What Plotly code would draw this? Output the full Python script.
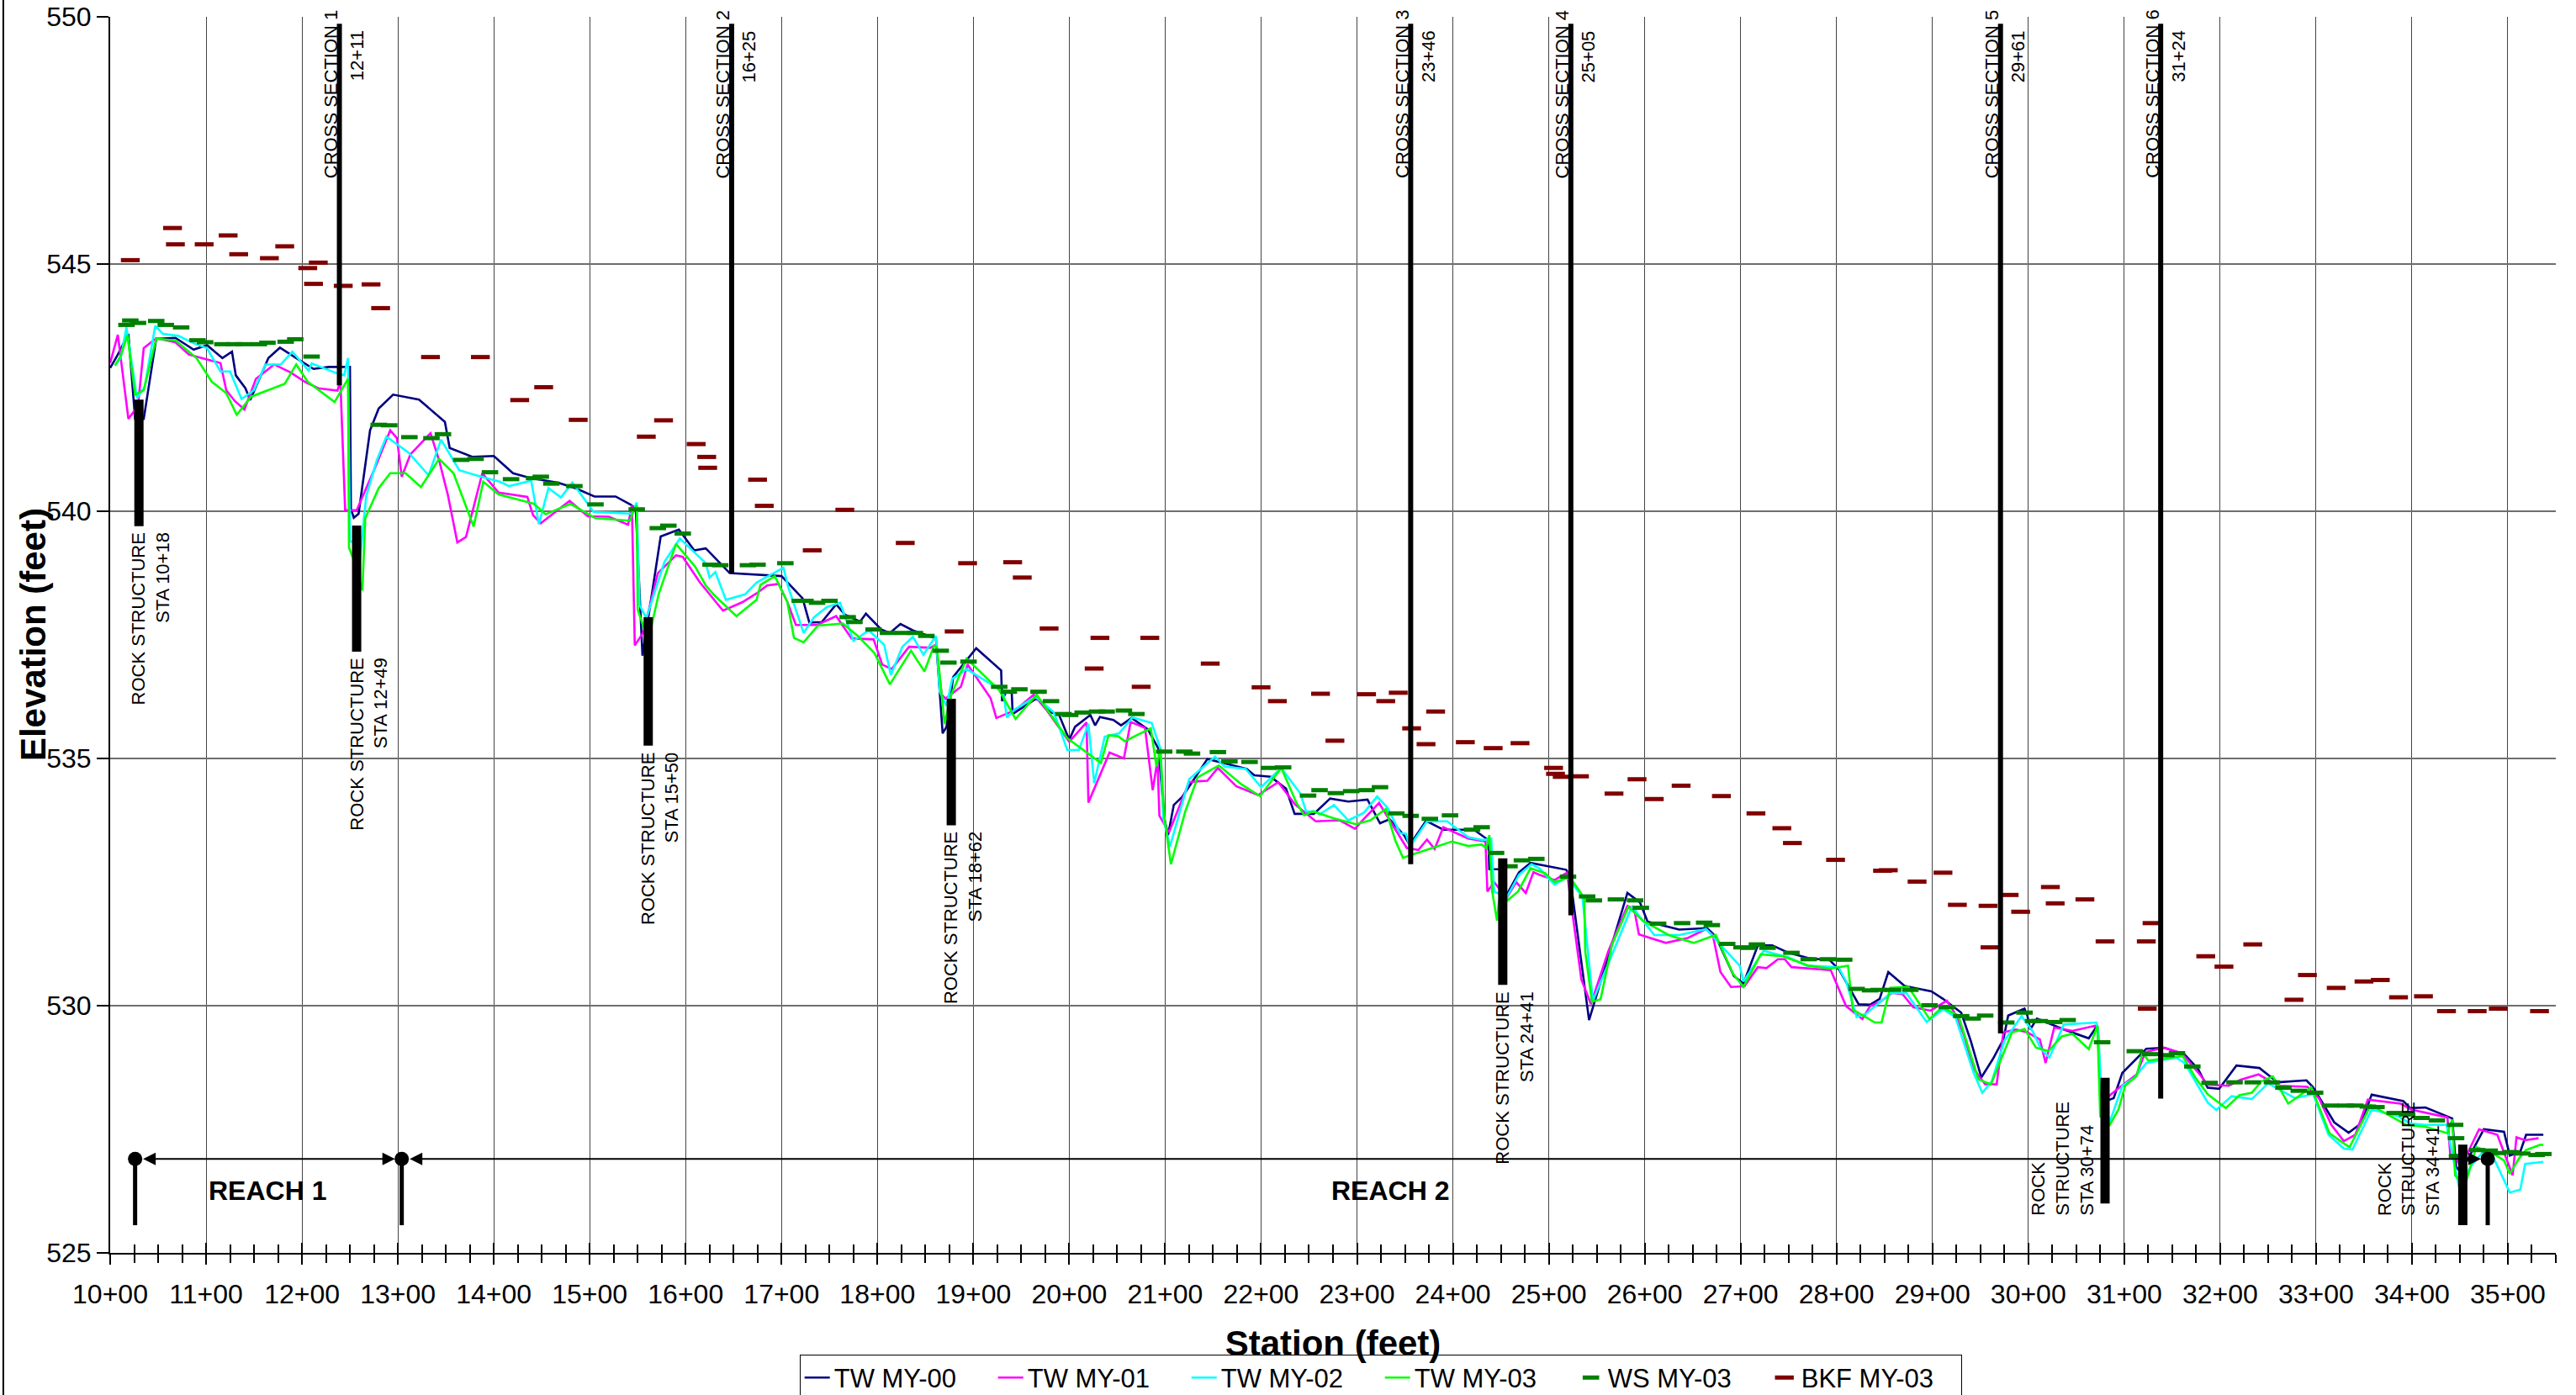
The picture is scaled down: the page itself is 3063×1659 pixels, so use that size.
import plotly.graph_objects as go

# ---------------- data (station in feet, elevation in feet) ----------------
tw00_sta = [1000,1008,1019,1026,1035,1048,1068,1087,1101,1117,1127,1131,1141,1146,1165,1177,1194,1212,1228,1250,
            1251,1254,1259,1271,1280,1295,1322,1349,1354,1378,1400,1420,1439,1467,1486,1505,1527,1543,1548,1555,
            1574,1593,1609,1621,1646,1700,1722,1729,1742,1757,1766,1782,1788,1804,1813,1824,1837,1861,1868,1872,
            1879,1903,1929,1930,1934,1940,1941,1966,1981,1989,2000,2006,2022,2027,2032,2046,2054,2065,2082,2093,
            2099,2103,2109,2118,2127,2144,2163,2185,2193,2210,2226,2235,2255,2272,2291,2311,2324,2334,2349,2355,
            2372,2390,2422,2437,2438,2449,2456,2469,2481,2518,2522,2542,2582,2595,2603,2636,2665,2674,2693,2703,
            2718,2733,2750,2771,2793,2803,2823,2835,2845,2854,2871,2899,2911,2930,2940,2951,2963,2974,2979,2996,
            2999,3002,3009,3037,3063,3072,3076,3089,3098,3123,3142,3163,3177,3187,3199,3217,3241,3260,3290,3297,
            3319,3334,3347,3358,3391,3398,3414,3442,3446,3451,3475,3496,3502,3513,3519,3537]
tw00_elev = [542.90,543.17,543.59,541.87,541.87,543.49,543.51,543.27,543.36,543.10,543.23,542.75,542.49,542.25,543.10,543.31,543.10,542.88,542.92,542.92,
             540.05,539.87,539.95,541.64,542.08,542.36,542.26,541.81,541.28,541.10,541.12,540.77,540.67,540.58,540.46,540.30,540.30,540.13,540.05,537.08,
             539.49,539.63,539.21,539.25,538.75,538.69,538.24,537.75,537.76,538.12,537.91,537.77,537.93,537.61,537.54,537.72,537.59,537.43,535.51,535.64,
             536.65,537.23,536.78,536.16,536.35,536.35,535.90,536.22,535.93,535.90,535.38,535.64,535.88,535.67,535.84,535.78,535.67,535.82,535.59,535.20,
             533.80,533.45,534.06,534.23,534.49,534.99,534.90,534.79,534.66,534.63,534.39,533.88,533.88,534.19,534.13,534.17,533.69,533.77,533.45,533.25,
             533.74,533.56,533.56,533.35,532.76,532.76,532.24,532.70,532.89,532.75,532.63,529.71,532.28,532.09,531.70,531.54,531.57,531.40,530.60,530.45,
             531.22,531.22,531.07,530.96,530.92,530.72,530.03,530.02,530.14,530.68,530.40,530.29,530.14,529.86,529.29,528.55,528.92,529.32,529.80,529.94,
             529.80,529.52,529.74,529.52,529.34,529.60,528.04,528.13,528.64,529.13,529.15,529.01,528.72,528.34,528.32,528.79,528.74,528.45,528.49,528.35,
             527.64,527.43,527.62,528.20,528.07,527.93,527.94,527.72,526.74,526.63,527.50,527.45,526.97,527.05,527.39,527.39]

tw01_sta = [1000,1008,1019,1029,1035,1048,1068,1082,1115,1121,1130,1140,1152,1171,1188,1203,1217,1237,1240,1245,
            1257,1277,1292,1299,1304,1313,1334,1343,1352,1362,1371,1388,1405,1435,1441,1449,1479,1498,1520,1540,
            1544,1547,1556,1571,1590,1597,1615,1629,1639,1659,1674,1685,1697,1706,1715,1737,1757,1773,1796,1805,
            1815,1833,1855,1861,1867,1871,1887,1894,1918,1924,1944,1963,1976,2000,2018,2020,2042,2057,2064,2079,
            2087,2092,2094,2104,2125,2134,2144,2155,2174,2197,2218,2235,2257,2282,2298,2305,2323,2352,2364,2373,
            2381,2390,2416,2434,2436,2443,2456,2466,2476,2484,2490,2506,2519,2534,2544,2562,2582,2589,2594,2622,
            2645,2664,2671,2679,2690,2704,2718,2727,2739,2746,2753,2794,2810,2827,2835,2845,2858,2869,2880,2898,
            2915,2924,2933,2943,2955,2967,2974,2987,2999,3012,3018,3027,3046,3071,3073,3076,3092,3113,3122,3141,
            3160,3180,3187,3209,3221,3240,3261,3291,3303,3316,3329,3341,3354,3388,3399,3437,3440,3446,3451,3470,
            3489,3505,3509,3518,3532]
tw01_elev = [543.00,543.57,541.87,542.13,543.30,543.50,543.42,543.17,543.00,542.45,542.23,542.06,542.68,542.97,542.81,542.62,542.49,542.44,542.65,540.02,
             540.02,540.92,541.64,541.48,540.70,541.15,541.58,541.03,540.34,539.37,539.48,540.77,540.38,540.29,539.92,539.76,540.21,539.90,539.89,539.73,
             540.12,537.29,537.55,538.75,539.11,539.08,538.56,538.23,537.99,538.16,538.34,538.50,538.53,538.17,537.70,537.70,537.88,537.43,537.41,536.90,
             536.81,537.26,537.24,537.30,536.29,536.21,536.45,536.90,536.22,535.82,535.98,536.29,535.99,535.34,535.73,534.11,535.12,535.00,535.74,535.62,
             534.36,534.97,533.84,533.51,534.52,534.54,534.55,534.81,534.44,534.26,534.52,534.08,533.73,533.75,533.58,533.73,534.10,533.19,533.15,533.36,
             533.17,533.61,533.38,533.32,532.31,532.50,532.18,532.50,532.28,532.70,532.65,532.54,532.69,530.53,530.03,531.10,532.02,531.95,531.44,531.27,
             531.37,531.55,531.43,530.68,530.38,530.39,530.78,530.76,530.94,530.94,530.78,530.72,529.99,529.73,529.99,530.07,530.26,530.23,529.97,529.90,
             530.10,529.83,529.40,528.72,528.41,528.41,529.46,529.52,529.46,529.32,528.84,529.56,529.49,529.60,529.40,528.04,528.30,528.61,529.06,529.15,
             529.04,528.58,528.40,528.38,528.50,528.61,528.38,528.36,528.13,527.59,527.26,527.39,528.10,528.02,527.90,527.74,526.97,526.91,526.74,527.50,
             527.39,526.57,527.34,527.28,527.32]

tw02_sta = [1005,1011,1017,1028,1036,1047,1055,1071,1087,1101,1115,1125,1137,1150,1162,1178,1190,1207,1210,1238,
            1244,1248,1250,1254,1260,1267,1278,1288,1311,1332,1345,1364,1387,1406,1416,1439,1447,1457,1470,1482,
            1504,1544,1549,1552,1559,1578,1594,1621,1625,1631,1642,1662,1674,1702,1707,1723,1734,1747,1761,1775,
            1791,1807,1814,1826,1837,1848,1861,1865,1872,1878,1893,1931,1935,1943,1965,1984,1998,2010,2020,2026,
            2037,2052,2066,2086,2095,2098,2105,2125,2152,2162,2184,2200,2221,2241,2247,2256,2261,2276,2291,2307,
            2321,2332,2345,2351,2355,2373,2394,2416,2431,2440,2443,2456,2469,2482,2490,2506,2519,2535,2546,2565,
            2587,2594,2610,2636,2664,2699,2703,2724,2750,2769,2802,2810,2821,2831,2857,2873,2894,2911,2924,2943,
            2952,2962,2975,2993,3005,3013,3022,3037,3071,3073,3076,3085,3098,3111,3123,3154,3163,3187,3196,3212,
            3233,3250,3278,3297,3313,3329,3338,3358,3385,3398,3414,3436,3449,3461,3473,3484,3502,3513,3518,3537]
tw02_elev = [542.95,543.10,543.72,542.29,542.52,543.75,543.59,543.55,543.40,543.30,542.83,542.83,542.27,542.45,542.97,542.97,543.23,542.84,542.99,542.78,
             542.75,543.10,539.40,539.37,538.95,540.31,541.03,541.51,541.19,540.73,541.45,540.83,540.70,540.60,540.51,540.62,539.74,540.47,540.28,540.58,
             539.99,539.95,540.18,538.10,537.84,538.98,539.45,538.95,538.66,538.77,538.21,538.32,538.56,538.86,538.47,537.54,537.86,538.06,538.15,537.38,
             537.59,537.30,536.69,537.26,537.46,537.10,537.48,536.35,536.06,536.61,536.81,536.35,535.83,535.99,536.25,535.93,535.17,535.17,535.70,534.50,
             535.44,535.51,535.83,535.72,535.20,533.80,533.22,534.58,535.04,534.84,534.79,534.42,534.81,534.29,533.93,533.93,533.87,534.06,533.75,533.90,
             534.23,534.00,533.49,533.48,533.21,533.73,533.73,533.41,533.35,533.38,532.31,532.19,532.65,532.86,532.78,532.45,532.60,532.21,530.10,530.98,
             532.02,531.82,531.43,531.43,531.55,530.81,530.49,531.11,530.98,530.81,530.78,530.49,529.77,529.84,530.26,530.25,529.67,529.93,529.77,528.64,
             528.24,528.47,529.29,529.79,529.47,529.13,528.95,529.62,529.66,529.46,528.27,527.65,528.38,528.55,528.84,528.95,528.84,528.04,527.89,528.17,
             528.11,528.43,528.13,528.21,527.39,527.11,527.09,527.90,527.77,527.62,527.59,527.59,526.34,526.74,527.02,526.97,526.22,526.28,526.80,526.84]

tw03_sta = [1005,1011,1018,1026,1035,1048,1068,1090,1106,1121,1132,1147,1182,1194,1206,1234,1248,1249,1254,1263,
            1266,1280,1292,1308,1324,1343,1358,1379,1389,1405,1435,1442,1454,1480,1506,1542,1546,1549,1550,1561,
            1572,1590,1610,1621,1630,1653,1674,1678,1693,1706,1713,1723,1738,1764,1780,1797,1813,1835,1849,1859,
            1862,1870,1877,1893,1927,1944,1966,1998,2033,2041,2051,2058,2085,2091,2095,2099,2106,2121,2134,2156,
            2180,2199,2221,2237,2245,2254,2276,2299,2314,2330,2340,2348,2361,2399,2416,2430,2435,2438,2441,2446,
            2448,2457,2468,2481,2496,2506,2522,2537,2538,2545,2554,2566,2583,2598,2625,2651,2674,2692,2703,2721,
            2744,2771,2793,2812,2817,2840,2847,2856,2875,2897,2910,2927,2948,2961,2983,2996,3008,3021,3035,3046,
            3063,3072,3075,3085,3094,3101,3113,3119,3125,3161,3174,3187,3206,3220,3233,3243,3255,3271,3295,3314,
            3330,3335,3357,3394,3414,3437,3442,3445,3455,3467,3484,3496,3502,3512,3519,3534,3537]
tw03_elev = [542.95,543.14,543.56,542.36,542.45,543.49,543.46,543.10,542.62,542.39,541.95,542.32,542.58,542.97,542.62,542.21,542.68,539.27,539.01,538.40,
             539.86,540.47,540.77,540.77,540.49,541.06,540.77,539.69,540.60,540.34,540.19,540.15,539.94,540.15,539.86,539.81,540.02,540.12,538.01,537.39,
             538.33,539.34,538.88,538.50,538.30,537.88,538.21,538.51,538.69,538.17,537.44,537.35,537.69,537.73,537.47,537.13,536.50,537.18,536.76,537.28,
             537.26,535.70,536.29,537.02,536.38,535.80,536.29,535.41,534.91,535.47,535.45,535.35,535.61,534.84,535.20,533.84,532.86,533.93,534.62,534.86,
             534.47,534.24,534.81,534.10,533.85,533.93,533.79,533.67,533.75,533.98,533.34,532.99,533.08,533.32,533.23,533.26,533.19,533.45,532.31,531.72,
             532.11,532.13,532.31,532.78,532.68,532.50,532.60,532.18,531.10,530.08,530.13,531.24,532.00,531.72,531.43,531.27,531.43,530.65,530.38,531.04,
             531.00,530.81,530.75,530.81,529.92,529.66,529.66,530.36,530.38,529.73,529.97,529.80,528.51,528.41,529.46,529.53,529.15,529.08,529.38,529.43,
             529.12,529.59,527.76,527.59,527.90,528.38,528.58,529.06,528.89,528.98,528.55,528.21,527.93,528.19,528.24,528.47,528.57,528.02,528.35,527.42,
             527.20,527.14,527.99,527.59,527.55,527.42,527.70,526.57,526.34,527.14,527.02,526.87,526.60,526.92,527.08,527.19,527.18]

ws_sta = [1017,1021,1029,1048,1058,1074,1091,1099,1117,1129,1139,1155,1164,1183,1193,1210,1280,1291,1312,1335,
          1347,1366,1381,1396,1418,1442,1449,1460,1484,1506,1549,1571,1582,1597,1626,1636,1665,1675,1704,1719,
          1725,1737,1750,1769,1776,1796,1811,1827,1839,1851,1866,1874,1895,1927,1937,1948,1968,1981,1994,2001,
          2014,2029,2039,2057,2070,2099,2120,2128,2155,2167,2188,2208,2223,2249,2261,2278,2294,2310,2324,2341,
          2356,2376,2397,2420,2430,2445,2459,2472,2487,2520,2540,2547,2570,2590,2596,2614,2639,2662,2670,2686,
          2701,2708,2717,2728,2753,2771,2791,2808,2821,2835,2844,2859,2877,2897,2915,2930,2942,2955,2977,2996,
          3005,3012,3027,3041,3077,3111,3127,3144,3155,3171,3189,3215,3234,3254,3266,3282,3299,3315,3331,3341,
          3354,3363,3382,3395,3410,3426,3445,3446,3447,3468,3481,3490,3503,3515,3530,3537]
ws_elev = [543.77,543.86,543.81,543.85,543.77,543.72,543.46,543.42,543.38,543.38,543.38,543.38,543.41,543.43,543.48,543.13,541.75,541.74,541.50,541.48,
           541.56,541.04,541.06,540.79,540.65,540.67,540.70,540.56,540.51,540.14,540.04,539.66,539.71,539.55,538.92,538.91,538.91,538.92,538.95,538.19,
           538.19,538.15,538.19,537.86,537.76,537.61,537.54,537.54,537.54,537.48,537.18,536.94,536.96,536.45,536.35,536.40,536.35,536.16,535.90,535.88,
           535.93,535.95,535.95,535.97,535.90,535.14,535.14,535.10,535.13,534.94,534.93,534.81,534.82,534.25,534.36,534.30,534.34,534.36,534.42,533.89,
           533.84,533.78,533.85,533.56,533.61,533.09,532.82,532.94,532.97,532.61,532.21,532.13,532.15,532.13,531.98,531.66,531.67,531.68,531.63,531.25,
           531.18,531.17,531.24,531.17,531.07,530.94,530.94,530.93,530.34,530.31,530.32,530.32,530.32,530.01,529.97,529.79,529.74,529.80,529.66,529.86,
           529.69,529.69,529.67,529.71,529.26,529.08,529.02,529.00,529.04,528.77,528.44,528.45,528.45,528.45,528.34,528.28,528.24,527.98,527.98,527.98,
           527.96,527.95,527.83,527.80,527.73,527.68,527.59,527.32,526.96,527.08,527.07,527.02,527.04,527.01,526.98,527.00]

bkf_sta = [1021,1065,1068,1098,1123,1134,1166,1182,1206,1212,1217,1243,1272,1282,1334,1386,1427,1452,1488,1559,
           1577,1611,1622,1623,1675,1682,1732,1766,1829,1880,1894,1941,1951,1979,2026,2032,2075,2084,2147,2200,
           2217,2262,2277,2310,2330,2343,2357,2372,2382,2413,2442,2470,2505,2507,2514,2532,2568,2592,2610,2638,
           2680,2716,2743,2754,2799,2848,2854,2884,2911,2926,2958,2960,2980,2992,3023,3028,3059,3080,3123,3129,
           3124,3185,3204,3234,3277,3291,3321,3350,3367,3386,3412,3436,3468,3490,3533]
bkf_elev = [545.08,545.73,545.40,545.40,545.58,545.20,545.12,545.36,544.92,544.60,545.03,544.56,544.59,544.11,543.12,543.12,542.25,542.51,541.85,541.51,
            541.84,541.36,541.10,540.88,540.64,540.11,539.21,540.03,539.36,537.57,538.95,538.97,538.66,537.63,536.82,537.44,536.45,537.44,536.92,536.44,
            536.16,536.31,535.36,536.30,536.16,536.33,535.61,535.29,535.95,535.33,535.21,535.31,534.81,534.69,534.63,534.64,534.29,534.58,534.18,534.45,
            534.24,533.89,533.59,533.29,532.95,532.73,532.74,532.51,532.69,532.04,532.02,531.18,532.24,531.90,532.40,532.07,532.15,531.30,531.30,531.67,
            529.94,531.00,530.79,531.24,530.12,530.62,530.36,530.49,530.52,530.17,530.19,529.89,529.89,529.94,529.89]

# cross sections
cs_names = ["CROSS SECTION 1", "CROSS SECTION 2", "CROSS SECTION 3", "CROSS SECTION 4", "CROSS SECTION 5", "CROSS SECTION 6"]
cs_labels = ["12+11", "16+25", "23+46", "25+05", "29+61", "31+24"]
cs_sta = [1239, 1648, 2356, 2523, 2971, 3138]
cs_bottom = [542.55, 538.75, 532.86, 531.83, 529.44, 528.12]
cs_top = 549.86

# rock structures
rs_labels = ["ROCK STRUCTURE<br>STA 10+18", "ROCK STRUCTURE<br>STA 12+49", "ROCK STRUCTURE<br>STA 15+50",
             "ROCK STRUCTURE<br>STA 18+62", "ROCK STRUCTURE<br>STA 24+41", "ROCK<br>STRUCTURE<br>STA 30+74",
             "ROCK<br>STRUCTURE<br>STA 34+41"]
rs_sta = [1030, 1257, 1561, 1877, 2452, 3080, 3453]
rs_top = [542.26, 539.71, 537.86, 536.21, 532.98, 528.54, 527.19]
rs_bottom = [539.70, 537.16, 535.26, 533.65, 530.42, 526.00, 525.56]

# reaches
reach_sta = [1026, 1304, 3479]
reach_elev = 526.9
reach_base = 525.56
reach_names = ["REACH 1", "REACH 2"]
reach_label_sta = [1164, 2335]
reach_label_elev = 526.26

tick_vals = list(range(1000, 3501, 100))
tick_text = [f"{v // 100}+00" for v in tick_vals]
y_tick_vals = [525, 530, 535, 540, 545, 550]

FONT = "Liberation Sans, Arial, sans-serif"

fig = go.Figure()
for name, xs, ys, col in [("TW MY-00", tw00_sta, tw00_elev, "#000080"),
                          ("TW MY-01", tw01_sta, tw01_elev, "#FF00FF"),
                          ("TW MY-02", tw02_sta, tw02_elev, "#00FFFF"),
                          ("TW MY-03", tw03_sta, tw03_elev, "#00FF00")]:
    fig.add_trace(go.Scatter(x=xs, y=ys, mode="lines", name=name, line=dict(color=col, width=2.6)))

fig.add_trace(go.Scatter(x=ws_sta, y=ws_elev, mode="markers", name="WS MY-03",
                         marker=dict(symbol="line-ew", size=14, color="#008000",
                                     line=dict(width=5, color="#008000"))))
fig.add_trace(go.Scatter(x=bkf_sta, y=bkf_elev, mode="markers", name="BKF MY-03",
                         marker=dict(symbol="line-ew", size=16, color="#800000",
                                     line=dict(width=5, color="#800000"))))
fig.add_trace(go.Scatter(x=reach_sta, y=[reach_elev] * len(reach_sta), mode="markers", showlegend=False,
                         hoverinfo="skip", marker=dict(symbol="circle", size=17, color="black")))
# empty trace that activates the overlay axis used for the inner half of the crossing ticks
fig.add_trace(go.Scatter(x=[], y=[], xaxis="x2", showlegend=False, hoverinfo="skip"))

ANN = dict(family=FONT, size=22, color="black")

# cross section lines and labels
for nm, lb, x, b in zip(cs_names, cs_labels, cs_sta, cs_bottom):
    fig.add_shape(type="line", xref="x", yref="y", x0=x, x1=x, y0=b, y1=cs_top,
                  line=dict(color="black", width=6))
    fig.add_annotation(x=x, y=550, xref="x", yref="y", text=nm, textangle=-90, showarrow=False,
                       xanchor="right", yanchor="top", xshift=4, yshift=10, font=ANN)
    fig.add_annotation(x=x, y=550, xref="x", yref="y", text=lb, textangle=-90, showarrow=False,
                       xanchor="left", yanchor="top", xshift=6, yshift=-14, font=ANN)

# rock structures
for i, (lb, x, t, b) in enumerate(zip(rs_labels, rs_sta, rs_top, rs_bottom)):
    fig.add_shape(type="line", xref="x", yref="y", x0=x, x1=x, y0=b, y1=t,
                  line=dict(color="black", width=11))
    if i < 5:
        fig.add_annotation(x=x, y=b, xref="x", yref="y", text=lb, textangle=-90, showarrow=False,
                           xanchor="center", yanchor="top", align="right", xshift=14, yshift=-6, font=ANN)
    else:
        fig.add_annotation(x=x, y=525.72, xref="x", yref="y", text=lb, textangle=-90, showarrow=False,
                           xanchor="right", yanchor="bottom", align="left", xshift=-8 if i == 5 else -22,
                           font=ANN)

# reach markers
for x in reach_sta:
    fig.add_shape(type="line", xref="x", yref="y", x0=x, x1=x, y0=reach_base, y1=reach_elev,
                  line=dict(color="black", width=5))
for a, b in zip(reach_sta[:-1], reach_sta[1:]):
    fig.add_annotation(x=b, y=reach_elev, ax=a, ay=reach_elev, xref="x", yref="y", axref="x", ayref="y",
                       text="", showarrow=True, arrowhead=2, arrowside="end+start", arrowsize=1.5,
                       arrowwidth=2, arrowcolor="black", standoff=8, startstandoff=8)
for nm, x in zip(reach_names, reach_label_sta):
    fig.add_annotation(x=x, y=reach_label_elev, xref="x", yref="y", text=f"<b>{nm}</b>", showarrow=False,
                       font=dict(family=FONT, size=32, color="black"))

# y axis title (placed as paper annotation for exact position)
fig.add_annotation(x=-0.0316, y=0.5, xref="paper", yref="paper", text="<b>Elevation (feet)</b>",
                   textangle=-90, showarrow=False, xanchor="center", yanchor="middle",
                   font=dict(family=FONT, size=42, color="black"))

# left border of chart area
fig.add_shape(type="line", xref="paper", yref="paper", x0=-0.0437, x1=-0.0437, y0=-0.2, y1=1.02,
              line=dict(color="black", width=2))

fig.update_layout(
    width=3063, height=1659, autosize=False,
    margin=dict(l=131, r=24, t=20, b=169, autoexpand=False),
    paper_bgcolor="white", plot_bgcolor="white",
    font=dict(family=FONT, color="black"),
    showlegend=True,
    legend=dict(orientation="h", x=0.5195, xanchor="center", y=-0.082, yanchor="top",
                bordercolor="black", borderwidth=1, bgcolor="white",
                font=dict(family=FONT, size=31, color="black"),
                entrywidth=185, entrywidthmode="pixels"),
    xaxis=dict(range=[1000, 3550], tickmode="array", tickvals=tick_vals, ticktext=tick_text,
               ticks="outside", ticklen=12, tickwidth=2, tickcolor="black", ticklabelstandoff=8,
               showline=True, linecolor="black", linewidth=2, zeroline=False, automargin=False,
               showgrid=True, gridcolor="#444444", gridwidth=1,
               minor=dict(dtick=25, tick0=1000, ticks="outside", ticklen=10, tickwidth=1.5,
                          tickcolor="black", showgrid=False),
               tickfont=dict(family=FONT, size=32, color="black"),
               title=dict(text="<b>Station (feet)</b>", standoff=26,
                          font=dict(family=FONT, size=42, color="black"))),
    xaxis2=dict(range=[1000, 3550], overlaying="x", anchor="y", side="bottom",
                tickmode="array", tickvals=tick_vals, showticklabels=False,
                ticks="inside", ticklen=12, tickwidth=2, tickcolor="black",
                showline=False, showgrid=False, zeroline=False, automargin=False,
                minor=dict(dtick=25, tick0=1000, ticks="inside", ticklen=10, tickwidth=1.5,
                           tickcolor="black", showgrid=False)),
    yaxis=dict(range=[525, 550.002], tickmode="array", tickvals=y_tick_vals,
               ticks="outside", ticklen=14, tickwidth=2, automargin=False,
               tickcolor="black", showline=True, linecolor="black", linewidth=2, zeroline=False,
               showgrid=True, gridcolor="#6e6e6e", gridwidth=2,
               tickfont=dict(family=FONT, size=32, color="black")),
)

fig.write_html("out.html")
